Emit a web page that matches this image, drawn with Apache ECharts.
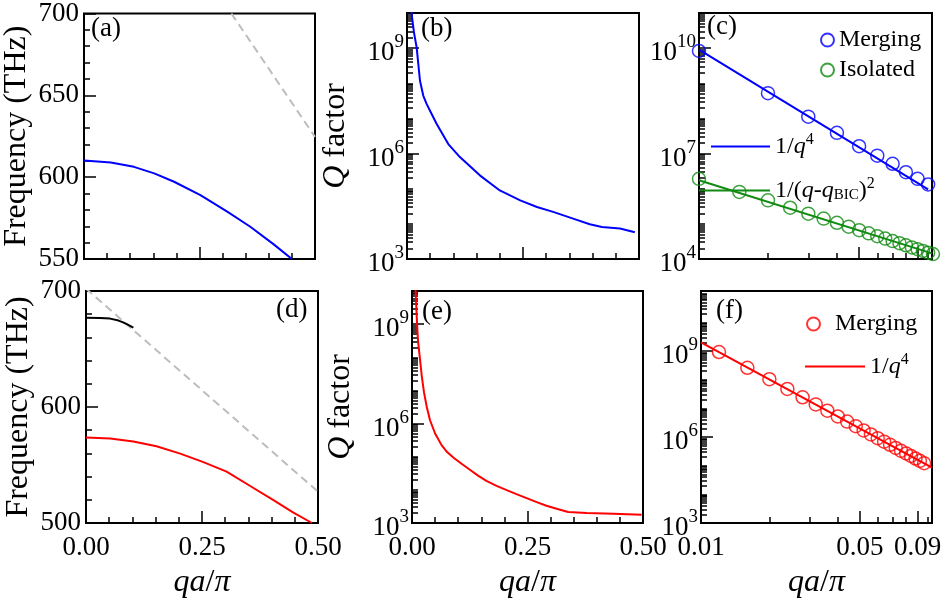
<!DOCTYPE html>
<html><head><meta charset="utf-8">
<script src="https://cdn.jsdelivr.net/npm/echarts@6/dist/echarts.min.js"></script>
<style>html,body{margin:0;padding:0;background:#fff}#c{width:951px;height:600px}</style>
</head><body><div id="c"></div>
<script>
// ================= DATA =================
// (a) frequency band (THz) vs qa/pi
const qA = [0, 0.058, 0.108, 0.152, 0.195, 0.252, 0.31, 0.36, 0.41, 0.45];
const fA = [610.2, 609.0, 606.3, 602.3, 597.2, 589.0, 578.9, 569.7, 559.1, 550.0];
const lightQA = [0.319, 0.5];
const lightFA = [700, 624.6];
// (b) log10(Q) vs qa/pi
const qB = [0.008, 0.0101, 0.015, 0.0209, 0.028, 0.035, 0.042, 0.0496, 0.064, 0.089, 0.114, 0.157, 0.2, 0.244, 0.28, 0.315, 0.358, 0.394, 0.42, 0.459, 0.491];
const logQB = [10.4, 9.96, 9.45, 9.01, 8.07, 7.65, 7.42, 7.22, 6.84, 6.27, 5.9, 5.38, 4.95, 4.67, 4.48, 4.34, 4.15, 3.99, 3.91, 3.87, 3.76];
// (c) log10(Q) vs qa/pi (log x)
const qMergeC = [0.01, 0.02, 0.03, 0.04, 0.05, 0.06, 0.07, 0.08, 0.09, 0.10];
const logQMergeC = [9.92, 8.72, 8.05, 7.59, 7.21, 6.94, 6.71, 6.47, 6.28, 6.12];
const qIsoC = [0.010, 0.015, 0.020, 0.025, 0.030, 0.035, 0.040, 0.045, 0.050, 0.055, 0.060, 0.065, 0.070, 0.075, 0.080, 0.085, 0.090, 0.095, 0.100, 0.105];
const logQIsoC = [6.28, 5.91, 5.67, 5.46, 5.29, 5.15, 5.03, 4.92, 4.82, 4.73, 4.65, 4.58, 4.51, 4.45, 4.39, 4.33, 4.28, 4.23, 4.18, 4.14];
const qFitC4 = [0.01, 0.10];
const logFitC4 = [9.96, 5.98];
const qFitCIso = [0.01, 0.104];
const logFitCIso = [6.24, 4.16];
// (d) frequency bands (THz)
const qDUp = [0, 0.03, 0.052, 0.07, 0.08, 0.09, 0.102];
const fDUp = [677, 676.7, 676.2, 674.5, 673, 671, 668.5];
const qD = [0, 0.052, 0.102, 0.152, 0.203, 0.253, 0.303, 0.353, 0.404, 0.447, 0.487];
const fD = [573.7, 572.9, 570.2, 566.1, 559.8, 552.5, 544.3, 532.1, 519.8, 509.0, 500.0];
const lightQD = [0, 0.5];
const lightFD = [702, 527];
// (e) log10(Q)
const qE = [0.0065, 0.008, 0.011, 0.013, 0.017, 0.021, 0.026, 0.032, 0.039, 0.05, 0.064, 0.076, 0.09, 0.108, 0.126, 0.143, 0.161, 0.183, 0.205, 0.226, 0.248, 0.27, 0.291, 0.315, 0.338, 0.378, 0.436, 0.497];
const logQE = [10.5, 9.95, 9.0, 8.5, 7.98, 7.45, 6.94, 6.5, 6.10, 5.7, 5.35, 5.14, 4.97, 4.78, 4.6, 4.43, 4.27, 4.12, 3.99, 3.87, 3.75, 3.63, 3.52, 3.42, 3.33, 3.30, 3.28, 3.25];
// (f) log10(Q) vs qa/pi (log x)
const qMergeF = [0.012, 0.016, 0.020, 0.024, 0.028, 0.032, 0.036, 0.040, 0.044, 0.048, 0.052, 0.056, 0.060, 0.064, 0.068, 0.072, 0.076, 0.080, 0.084, 0.088, 0.092, 0.096];
const logQMergeF = [8.97, 8.42, 8.02, 7.68, 7.39, 7.14, 6.92, 6.72, 6.54, 6.38, 6.23, 6.09, 5.96, 5.84, 5.73, 5.62, 5.52, 5.43, 5.34, 5.25, 5.17, 5.09];
const qFitF = [0.01, 0.104];
const logFitF = [9.31, 4.93];
// tick labels
const linXTicks = [0, 0.25, 0.5];
const freqTicksA = [550, 600, 650, 700];
const freqTicksD = [500, 600, 700];
const expTicksBE = [3, 6, 9];
const expTicksC = [4, 7, 10];
const expTicksF = [3, 6, 9];
const logXTicks = [0.01, 0.05, 0.09];

// ================= STYLE =================
const FONT = 'Liberation Serif';
const BLACK = '#000';
const BLUE = '#0000ff', RED = '#ff0000', GREEN = '#108a10', GRAY = '#bdbdbd';
const TICK_FS = 27, TITLE_FS = 32, LEG_FS = 24, PANEL_FS = 27;
const tickLS = {color: BLACK, width: 1.5};
const lg = Math.log10;

const grids = [
  {left: 83, top: 13, width: 232, height: 246},
  {left: 407, top: 13, width: 232, height: 246},
  {left: 699, top: 13, width: 233, height: 246},
  {left: 86, top: 291, width: 232, height: 245},
  {left: 412, top: 291, width: 231, height: 245},
  {left: 701, top: 291, width: 231, height: 245}
].map(g => Object.assign(g, {show: true, borderColor: BLACK, borderWidth: 2, backgroundColor: 'transparent'}));

const richExp = {
  b: {fontFamily: FONT, fontSize: TICK_FS, color: BLACK, padding: [10, 0, 0, 0]},
  s: {fontFamily: FONT, fontSize: 19, color: BLACK, padding: [3, 0, 15, 0]}
};
const italic = {fontFamily: FONT, fontStyle: 'italic', color: BLACK};

const xAxes = [], yAxes = [];
const addX = a => (xAxes.push(a), xAxes.length - 1);
const addY = a => (yAxes.push(a), yAxes.length - 1);

function plain(gi, pos) {
  return {type: 'value', gridIndex: gi, position: pos, axisLine: {show: false}, splitLine: {show: false}};
}
function xName(show) {
  if (!show) return {};
  return {name: '{i|qa}/{i|π}', nameLocation: 'middle', nameGap: 44,
    nameTextStyle: {color: BLACK, fontFamily: FONT, fontSize: TITLE_FS,
      rich: {i: Object.assign({fontSize: TITLE_FS}, italic)}}};
}
function linX(gi, labels) {
  return Object.assign(plain(gi, 'bottom'), {
    min: 0, max: 0.5, interval: 0.25,
    axisTick: {inside: true, length: 12, lineStyle: tickLS},
    minorTick: {show: true, splitNumber: 5, length: 6, lineStyle: tickLS},
    axisLabel: {show: labels, color: BLACK, fontFamily: FONT, fontSize: TICK_FS, margin: 11,
      customValues: linXTicks, formatter: v => v.toFixed(2)}
  }, xName(labels));
}
function logXMajor(gi, labels) {
  return Object.assign(plain(gi, 'bottom'), {
    min: lg(0.01), max: lg(0.104),
    axisTick: {inside: true, length: 12, lineStyle: tickLS, customValues: logXTicks.map(lg)},
    axisLabel: {show: labels, color: BLACK, fontFamily: FONT, fontSize: TICK_FS, margin: 11,
      customValues: logXTicks.map(lg), formatter: v => Math.pow(10, v).toFixed(2)}
  }, xName(labels));
}
function logXMinor(gi) {
  const minors = [0.02, 0.03, 0.04, 0.06, 0.07, 0.08, 0.1].map(lg);
  return Object.assign(plain(gi, 'bottom'), {
    min: lg(0.01), max: lg(0.104),
    axisTick: {inside: true, length: 6, lineStyle: tickLS, customValues: minors},
    axisLabel: {show: false}
  });
}
function freqY(gi, min, max, interval, ticks) {
  return Object.assign(plain(gi, 'left'), {
    min: min, max: max, interval: interval,
    axisTick: {inside: true, length: 12, lineStyle: tickLS},
    minorTick: {show: true, splitNumber: 5, length: 6, lineStyle: tickLS},
    axisLabel: {color: BLACK, fontFamily: FONT, fontSize: TICK_FS, margin: 5, customValues: ticks},
    name: 'Frequency (THz)', nameLocation: 'middle', nameGap: 51,
    nameTextStyle: {color: BLACK, fontFamily: FONT, fontSize: TITLE_FS}
  });
}
function expYMajor(gi, min, max, ticks, withName) {
  const a = Object.assign(plain(gi, 'left'), {
    min: min, max: max,
    axisTick: {inside: true, length: 12, lineStyle: tickLS, customValues: ticks},
    axisLabel: {color: BLACK, fontFamily: FONT, fontSize: TICK_FS, margin: 3, customValues: ticks,
      formatter: v => '{b|10}{s|' + v + '}', rich: richExp}
  });
  if (withName) Object.assign(a, {
    name: '{i|Q} factor', nameLocation: 'middle', nameGap: 55,
    nameTextStyle: {color: BLACK, fontFamily: FONT, fontSize: TITLE_FS,
      rich: {i: Object.assign({fontSize: TITLE_FS}, italic)}}
  });
  return a;
}
function expYMinor(gi, min, max, majors) {
  const minors = [];
  for (let n = Math.floor(min); n <= Math.ceil(max); n++) {
    for (let k = 1; k <= 9; k++) {
      const v = n + lg(k);
      if (v > min && v < max && majors.indexOf(v) < 0) minors.push(v);
    }
  }
  return Object.assign(plain(gi, 'left'), {
    min: min, max: max,
    axisTick: {inside: true, length: 6, lineStyle: tickLS, customValues: minors},
    axisLabel: {show: false}
  });
}

// axes per panel
const xa = addX(linX(0, false)), ya = addY(freqY(0, 550, 700, 50, freqTicksA));
const xb = addX(linX(1, false)), yb = addY(expYMajor(1, 3, 10, expTicksBE, true)); addY(expYMinor(1, 3, 10, expTicksBE));
const xc = addX(logXMajor(2, false)); addX(logXMinor(2));
const yc = addY(expYMajor(2, 4, 11, expTicksC, false)); addY(expYMinor(2, 4, 11, expTicksC));
const xd = addX(linX(3, true)), yd = addY(freqY(3, 500, 700, 100, freqTicksD));
const xe = addX(linX(4, true)), ye = addY(expYMajor(4, 3, 10, expTicksBE, true)); addY(expYMinor(4, 3, 10, expTicksBE));
const xf = addX(logXMajor(5, true)); addX(logXMinor(5));
const yf = addY(expYMajor(5, 3, 11.1, expTicksF, false)); addY(expYMinor(5, 3, 11.1, expTicksF));

const pts = (xs, ys, tx) => xs.map((x, i) => [tx ? tx(x) : x, ys[i]]);
function line(name, xi, yi, data, color, extra) {
  return Object.assign({name: name, type: 'line', xAxisIndex: xi, yAxisIndex: yi, data: data,
    symbol: 'none', showSymbol: false, silent: true, animation: false, clip: true,
    lineStyle: {color: color, width: 2}, itemStyle: {color: color}}, extra || {});
}
function circles(name, xi, yi, data, color) {
  return {name: name, type: 'scatter', xAxisIndex: xi, yAxisIndex: yi, data: data,
    symbol: 'circle', symbolSize: 13, clip: false, silent: true, animation: false,
    itemStyle: {color: 'rgba(255,255,255,0)', borderColor: color, borderWidth: 1.5}};
}
const dash = {lineStyle: {color: GRAY, width: 2, type: [8, 5]}};

const series = [
  line('lightA', xa, ya, pts(lightQA, lightFA), GRAY, dash),
  line('bandA', xa, ya, pts(qA, fA), BLUE),
  line('QB', xb, yb, pts(qB, logQB), BLUE),
  line('fitC4', xc, yc, pts(qFitC4, logFitC4, lg), BLUE),
  line('fitCIso', xc, yc, pts(qFitCIso, logFitCIso, lg), GREEN),
  circles('MergingC', xc, yc, pts(qMergeC, logQMergeC, lg), BLUE),
  circles('IsolatedC', xc, yc, pts(qIsoC, logQIsoC, lg), GREEN),
  line('lightD', xd, yd, pts(lightQD, lightFD), GRAY, dash),
  line('upperD', xd, yd, pts(qDUp, fDUp), BLACK),
  line('bandD', xd, yd, pts(qD, fD), RED),
  line('QE', xe, ye, pts(qE, logQE), RED),
  line('fitF', xf, yf, pts(qFitF, logFitF, lg), RED),
  circles('MergingF', xf, yf, pts(qMergeF, logQMergeF, lg), RED)
];

const legText = {color: BLACK, fontFamily: FONT, fontSize: LEG_FS,
  rich: {
    i: Object.assign({fontSize: LEG_FS}, italic),
    sup: {fontFamily: FONT, fontSize: 16, color: BLACK, padding: [0, 0, 13, 0]},
    sub: {fontFamily: FONT, fontSize: 15, color: BLACK, padding: [9, 0, 0, 0]}
  }};
const legLabels = {
  MergingC: 'Merging', IsolatedC: 'Isolated', MergingF: 'Merging',
  fitC4: '1/{i|q}{sup|4}', fitCIso: '1/({i|q}-{i|q}{sub|BIC}){sup|2}', fitF: '1/{i|q}{sup|4}'
};
function leg(names, left, top, w, h, gap, icon) {
  const l = {data: names, left: left, top: top, orient: 'vertical', itemWidth: w, itemHeight: h,
    itemGap: gap || 0, padding: 0, selectedMode: false, textStyle: legText,
    formatter: n => legLabels[n]};
  if (icon) l.icon = icon;
  return l;
}

const panelTitles = [['(a)', 91, 15], ['(b)', 421, 15], ['(c)', 707, 13], ['(d)', 276, 296], ['(e)', 422, 298], ['(f)', 716, 297]]
  .map(p => ({text: p[0], left: p[1], top: p[2], padding: 0,
    textStyle: {fontFamily: FONT, fontSize: PANEL_FS, fontWeight: 'normal', color: BLACK}}));

const option = {
  animation: false,
  backgroundColor: '#fff',
  title: panelTitles,
  grid: grids,
  xAxis: xAxes,
  yAxis: yAxes,
  legend: [
    leg(['MergingC', 'IsolatedC'], 820, 28, 13, 13, 6),
    leg(['fitC4'], 711, 132, 59, 2, 0, 'rect'),
    leg(['fitCIso'], 699, 176, 71, 2, 0, 'rect'),
    leg(['MergingF'], 806, 312, 33, 13),
    leg(['fitF'], 805, 352, 60, 2, 0, 'rect')
  ],
  series: series
};
const chart = echarts.init(document.getElementById('c'), null, {renderer: 'canvas'});
chart.setOption(option);
</script></body></html>
